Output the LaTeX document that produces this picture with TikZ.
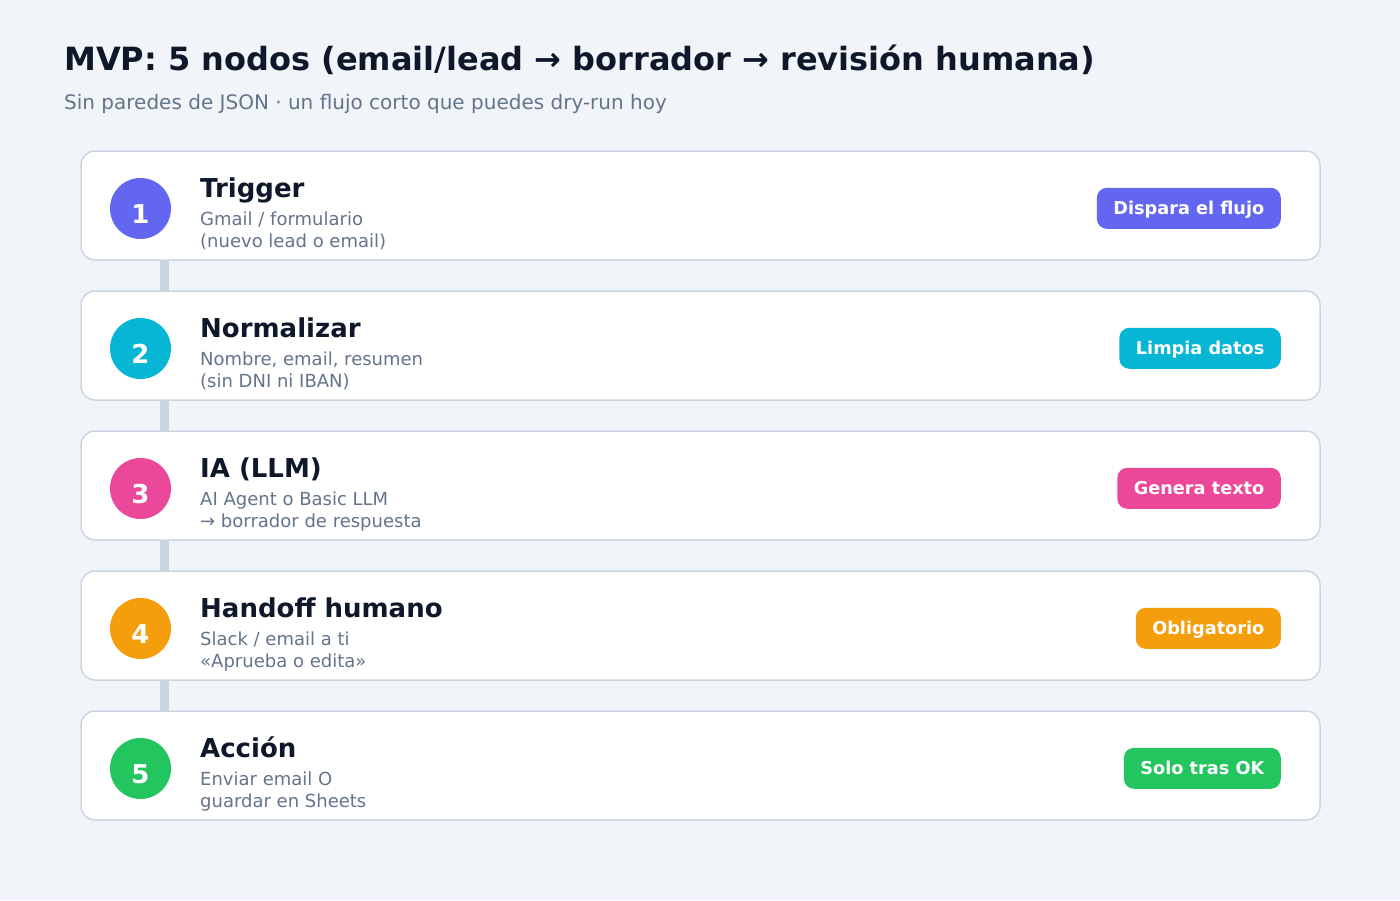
\documentclass[tikz,border=0pt]{standalone}
\usepackage{fontspec}
\setmainfont{DejaVu Sans}
\usetikzlibrary{backgrounds}
\definecolor{bgc}{HTML}{F1F5F9}
\definecolor{bordc}{HTML}{CBD5E1}
\definecolor{titc}{HTML}{0F172A}
\definecolor{subc}{HTML}{64748B}
\definecolor{cA}{HTML}{6366F1}
\definecolor{cB}{HTML}{06B6D4}
\definecolor{cC}{HTML}{EC4899}
\definecolor{cD}{HTML}{F59E0B}
\definecolor{cE}{HTML}{22C55E}
\tikzset{
  cardbox/.style={draw=bordc, line width=1.5pt, fill=white, rounded corners=14pt, minimum width=1239pt, minimum height=109pt, inner sep=0pt, outer sep=0pt},
  numcirc/.style={circle, fill=#1, minimum size=61pt, inner sep=0pt},
  numtxt/.style={anchor=base, inner sep=0pt, text=white, font=\fontsize{26}{30}\selectfont\bfseries},
  cardtitle/.style={anchor=base west, inner sep=0pt, text=titc, font=\fontsize{26}{30}\selectfont\bfseries},
  cardsub/.style={anchor=base west, inner sep=0pt, text=subc, font=\fontsize{18}{22}\selectfont},
  badge/.style={anchor=east, fill=#1, rounded corners=10pt, minimum height=41pt, inner ysep=0pt, inner xsep=16.5pt, text=white, text height=13pt, text depth=0.5pt, font=\fontsize{17.7}{20}\selectfont\bfseries},
  conn/.style={draw=bordc, line width=9pt},
}
\newcommand\mkcard[7]{%
  \node[cardbox] (card#1) at (700.5,{205.5+#2}) {};
  \node[numcirc=#3] (circ#1) at (140.5,{208.5+#2}) {};
  \node[numtxt] (num#1) at (140.5,{223.5+#2}) {#1};
  \node[cardtitle] (title#1) at (200,{197.5+#2}) {#4};
  \node[cardsub] (subA#1) at (200,{225+#2}) {#5};
  \node[cardsub] (subB#1) at (200,{247+#2}) {#6};
  \node[badge=#3] (badge#1) at (1281,{208.3+#2}) {#7};
}
\begin{document}
\begin{tikzpicture}[x=1pt,y=-1pt]
\useasboundingbox (0,0) rectangle (1400,900);
\node[anchor=base west, inner sep=0pt, text=titc, font=\fontsize{32}{36}\selectfont\bfseries] (title) at (64,70) {MVP: 5 nodos (email/lead → borrador → revisión humana)};
\node[anchor=base west, inner sep=0pt, text=subc, font=\fontsize{20}{24}\selectfont] (subtitle) at (64,109) {Sin paredes de JSON · un flujo corto que puedes dry-run hoy};
\mkcard{1}{0}{cA}{Trigger}{Gmail / formulario}{(nuevo lead o email)}{Dispara el flujo}
\mkcard{2}{140}{cB}{Normalizar}{Nombre, email, resumen}{(sin DNI ni IBAN)}{Limpia datos}
\mkcard{3}{280}{cC}{IA (LLM)}{AI Agent o Basic LLM}{→ borrador de respuesta}{Genera texto}
\mkcard{4}{420}{cD}{Handoff humano}{Slack / email a ti}{«Aprueba o edita»}{Obligatorio}
\mkcard{5}{560}{cE}{Acción}{Enviar email O}{guardar en Sheets}{Solo tras OK}
\begin{scope}[on background layer]
  \fill[bgc] (0,0) rectangle (1400,900);
  \foreach \a/\b in {1/2,2/3,3/4,4/5}{
    \draw[conn] ([xshift=83.5pt]card\a.south west) -- ([xshift=83.5pt]card\b.north west);
  }
\end{scope}
\end{tikzpicture}
\end{document}
